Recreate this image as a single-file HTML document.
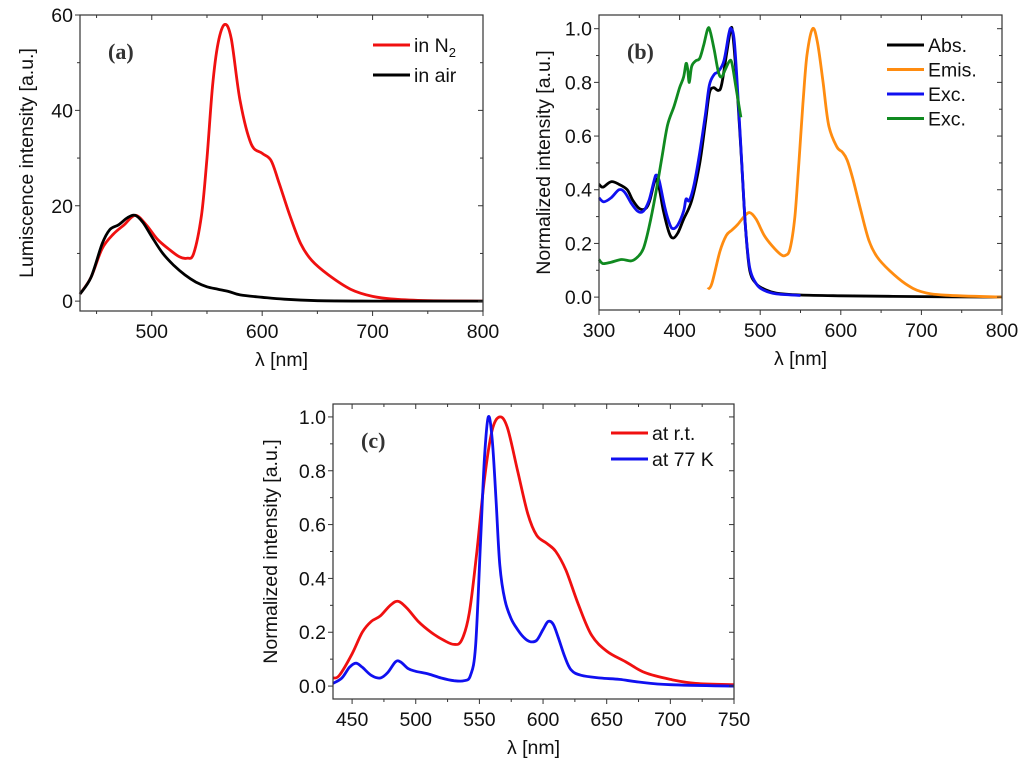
<!DOCTYPE html>
<html><head><meta charset="utf-8"><style>
html,body{margin:0;padding:0;background:#fff;}
svg{display:block;font-family:"Liberation Sans",Arial,sans-serif;}
</style></head><body>
<svg id="fig" width="1024" height="767" viewBox="0 0 1024 767" xmlns="http://www.w3.org/2000/svg"></svg>
<script>
// ---- Panel (a) data ----
const aN2X=[435,445,455,465,475,485,495,505,515,525,532,538,545,550,555,560,566,572,580,590,600,608,615,625,635,645,660,680,700,720,750,800];
const aN2Y=[1.5,5,11,14,16,18,16,13,11,9.3,9,10,18,30,45,54,58,55,42,33,31,29.5,25,18,12,8.5,5.5,2.5,1,0.4,0.1,0];
const aAirX=[435,445,455,462,470,478,485,492,500,510,520,530,540,550,560,570,580,600,620,650,700,800];
const aAirY=[1.5,5,12,15,16,17.5,18,16.5,13.5,10,7.5,5.5,4,3,2.5,2,1.3,0.8,0.4,0.1,0,0];
const aXTicks=[500,600,700,800];
const aYTicks=[0,20,40,60];
// ---- Panel (b) data ----
const bAbsX=[300,305,315,325,335,342,350,358,363,368,371,375,380,387,392,398,405,415,425,432,437,442,448,452,458,463,466,472,477,482,487,495,505,520,550,600,700,800];
const bAbsY=[0.42,0.41,0.43,0.42,0.40,0.36,0.33,0.33,0.36,0.42,0.44,0.40,0.32,0.24,0.22,0.24,0.29,0.36,0.50,0.65,0.76,0.78,0.77,0.79,0.90,0.99,0.98,0.75,0.50,0.25,0.10,0.05,0.03,0.015,0.008,0.005,0.002,0];
const bEmisX=[435,440,450,458,465,472,480,487,495,505,515,525,531,537,543,548,553,558,565,571,578,585,595,602,608,615,625,635,645,660,680,700,730,800];
const bEmisY=[0.03,0.05,0.17,0.23,0.25,0.27,0.30,0.315,0.29,0.23,0.19,0.16,0.155,0.18,0.30,0.50,0.72,0.90,1.0,0.95,0.80,0.64,0.56,0.54,0.51,0.44,0.32,0.21,0.15,0.10,0.05,0.02,0.007,0];
const bExcX=[300,306,315,325,332,340,348,355,362,368,371,375,382,388,392,398,405,408,412,418,425,432,437,443,448,455,461,464,468,473,478,482,487,495,505,520,550];
const bExcY=[0.37,0.355,0.37,0.40,0.39,0.35,0.32,0.32,0.36,0.43,0.455,0.43,0.33,0.27,0.255,0.27,0.32,0.365,0.36,0.42,0.54,0.68,0.79,0.83,0.84,0.88,0.98,1.0,0.95,0.72,0.45,0.25,0.11,0.05,0.025,0.012,0.006];
const bExc2X=[300,305,315,328,340,348,355,362,370,378,385,393,400,405,408,410,412,415,420,425,430,435,438,443,448,452,457,462,465,470,476];
const bExc2Y=[0.14,0.125,0.13,0.14,0.135,0.15,0.18,0.26,0.38,0.52,0.64,0.71,0.78,0.82,0.87,0.85,0.80,0.86,0.88,0.89,0.94,1.0,0.99,0.92,0.84,0.82,0.85,0.88,0.87,0.78,0.67];
const bXTicks=[300,400,500,600,700,800];
const bYTicks=[0,0.2,0.4,0.6,0.8,1.0];
// ---- Panel (c) data ----
const cRtX=[435,440,450,458,465,472,480,486,493,502,512,522,530,536,542,548,554,560,566,572,580,588,595,603,610,618,628,638,650,665,680,700,720,750];
const cRtY=[0.03,0.04,0.12,0.20,0.24,0.26,0.30,0.315,0.29,0.24,0.20,0.17,0.155,0.17,0.27,0.50,0.77,0.95,1.0,0.96,0.80,0.64,0.56,0.53,0.50,0.43,0.30,0.19,0.13,0.09,0.05,0.025,0.01,0.005];
const c77X=[435,442,448,453,458,465,472,478,484,488,494,500,510,520,530,538,543,547,551,554,557,560,563,566,570,575,580,585,590,595,600,604,608,612,617,622,630,645,660,675,700,750];
const c77Y=[0.01,0.03,0.07,0.085,0.07,0.04,0.03,0.05,0.09,0.09,0.065,0.055,0.045,0.03,0.02,0.02,0.04,0.15,0.55,0.85,1.0,0.92,0.70,0.45,0.32,0.25,0.21,0.18,0.165,0.17,0.21,0.24,0.23,0.18,0.11,0.06,0.04,0.03,0.025,0.015,0.005,0];
const cXTicks=[450,500,550,600,650,700,750];
const cYTicks=[0,0.2,0.4,0.6,0.8,1.0];

const NS="http://www.w3.org/2000/svg";
const svg=document.getElementById('fig');
const FS=19.5;
function mk(tag,attrs,parent){const e=document.createElementNS(NS,tag);for(const k in attrs)e.setAttribute(k,attrs[k]);(parent||svg).appendChild(e);return e;}
function smooth(pts){let d="M"+pts[0][0].toFixed(1)+","+pts[0][1].toFixed(1);
 for(let i=0;i<pts.length-1;i++){const p0=pts[i-1]||pts[i],p1=pts[i],p2=pts[i+1],p3=pts[i+2]||p2;
  const c1=[p1[0]+(p2[0]-p0[0])/6,p1[1]+(p2[1]-p0[1])/6],c2=[p2[0]-(p3[0]-p1[0])/6,p2[1]-(p3[1]-p1[1])/6];
  d+="C"+c1[0].toFixed(1)+","+c1[1].toFixed(1)+" "+c2[0].toFixed(1)+","+c2[1].toFixed(1)+" "+p2[0].toFixed(1)+","+p2[1].toFixed(1);}
 return d;}
function panel(o){
 const g=mk('g',{});
 
 
 const sx=v=>o.L+(v-o.x0)/(o.x1-o.x0)*(o.R-o.L);
 const sy=v=>o.B-(v-o.y0)/(o.y1-o.y0)*(o.B-o.T);
 o.series.forEach(s=>{const p=mk('path',{d:smooth(s.x.map((v,i)=>[sx(v),sy(s.y[i])])),fill:'none',stroke:s.c,'stroke-width':2.8,'stroke-linejoin':'round'},g);
  
  });
 const f=mk('rect',{x:o.L,y:o.T,width:o.R-o.L,height:o.B-o.T,fill:'none',stroke:'#333','stroke-width':1.2},g);
 
 
 const xs=o.xt[1]-o.xt[0];
 for(let v=o.xt[0]-xs;v<=o.x1+1e-9;v+=xs/2){if(v<o.x0-1e-9)continue;const major=o.xt.some(t=>Math.abs(t-v)<1e-6);const len=major?5:3;const X=sx(v);
  mk('line',{x1:X,x2:X,y1:o.B,y2:o.B+len,stroke:'#333','stroke-width':1},g);mk('line',{x1:X,x2:X,y1:o.T,y2:o.T+len,stroke:'#333','stroke-width':1},g);}
 o.xt.forEach(t=>{const e=mk('text',{x:sx(t),y:o.B+27,'font-size':FS,'text-anchor':'middle',fill:'#111'},g);e.textContent=String(t);
  
  });
 const ys=o.yt[1]-o.yt[0];
 for(let v=o.yt[0];v<=o.y1+1e-9;v+=ys/2){const major=o.yt.some(t=>Math.abs(t-v)<1e-6);const len=major?5:3;const Y=sy(v);
  mk('line',{x1:o.L,x2:o.L-len,y1:Y,y2:Y,stroke:'#333','stroke-width':1},g);mk('line',{x1:o.R,x2:o.R-len,y1:Y,y2:Y,stroke:'#333','stroke-width':1},g);}
 o.yt.forEach(t=>{const e=mk('text',{x:o.L-7,y:sy(t)+7,'font-size':FS,'text-anchor':'end',fill:'#111'},g);e.textContent=o.yf(t);
  
  });
 const xt=mk('text',{x:(o.L+o.R)/2,y:o.B+55,'font-size':FS,'text-anchor':'middle',fill:'#111'},g);xt.textContent='λ [nm]';
 
 
 const yc=(o.T+o.B)/2;
 const yt=mk('text',{x:o.ytx,y:yc,'font-size':FS,'text-anchor':'middle',fill:'#111',transform:'rotate(-90 '+o.ytx+' '+yc+')'},g);yt.innerHTML=o.ytitle;
 
 
 const pl=mk('text',{x:o.L+28,y:o.T+44,'font-size':22,'font-weight':'bold','font-family':'"Liberation Serif",serif',fill:'#333'},g);pl.textContent=o.label;
 
 
 o.series.forEach((s,i)=>{if(!s.leg)return;const Y=o.legY+i*o.legDy;
  const ln=mk('line',{x1:o.legX,x2:o.legX+37,y1:Y,y2:Y,stroke:s.c,'stroke-width':3},g);
  
  
  const t=mk('text',{x:o.legX+41,y:Y+7,'font-size':FS,fill:'#111'},g);t.innerHTML=s.leg;
  
  });
}
panel({name:'panel-a',L:80,R:483,T:15,B:311,x0:435,x1:800,y0:-2.07,y1:60,xt:aXTicks,yt:aYTicks,yf:t=>String(t),
 ytx:33,ytitle:'Lumiscence intensity [a.u.]',label:'(a)',legX:373,legY:45,legDy:30,
 series:[{x:aN2X,y:aN2Y,c:'#f01010',n:'series-in-n2',leg:'in N<tspan font-size="13" dy="5">2</tspan>'},{x:aAirX,y:aAirY,c:'#000',n:'series-in-air',leg:'in air'}]});
panel({name:'panel-b',L:599,R:1002,T:15,B:310,x0:300,x1:800,y0:-0.048,y1:1.051,xt:bXTicks,yt:bYTicks,yf:t=>t.toFixed(1),
 ytx:550,ytitle:'Normalized intensity [a.u.]',label:'(b)',legX:887,legY:45,legDy:24.5,
 series:[{x:bAbsX,y:bAbsY,c:'#000',n:'series-abs',leg:'Abs.'},{x:bEmisX,y:bEmisY,c:'#ff8c10',n:'series-emis',leg:'Emis.'},{x:bExcX,y:bExcY,c:'#1010f0',n:'series-exc-blue',leg:'Exc.'},{x:bExc2X,y:bExc2Y,c:'#108a20',n:'series-exc-green',leg:'Exc.'}]});
panel({name:'panel-c',L:333,R:734,T:404,B:699,x0:435,x1:750,y0:-0.048,y1:1.048,xt:cXTicks,yt:cYTicks,yf:t=>t.toFixed(1),
 ytx:277,ytitle:'Normalized intensity [a.u.]',label:'(c)',legX:611,legY:433,legDy:26,
 series:[{x:cRtX,y:cRtY,c:'#f01010',n:'series-rt',leg:'at r.t.'},{x:c77X,y:c77Y,c:'#1010f0',n:'series-77k',leg:'at 77 K'}]});
</script>
</body></html>
